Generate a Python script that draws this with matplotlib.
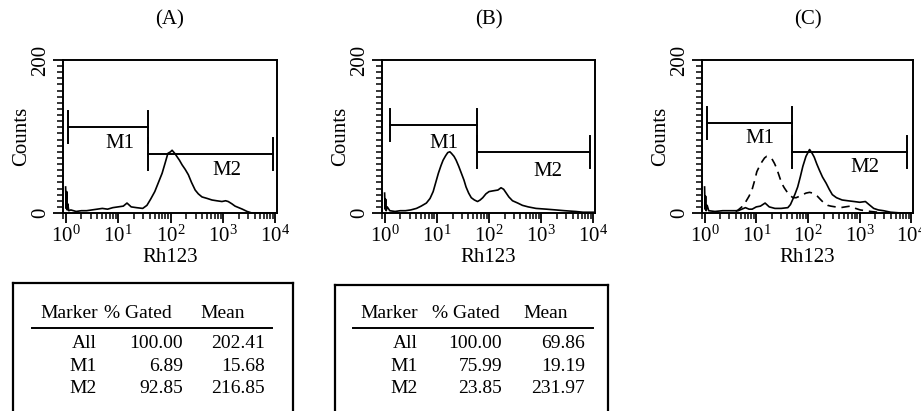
import numpy as np
import matplotlib
matplotlib.use("Agg")
import matplotlib.pyplot as plt
from matplotlib.ticker import FixedLocator, MultipleLocator, LogLocator, NullFormatter

plt.rcParams['font.family'] = ['Liberation Serif', 'DejaVu Serif']
plt.rcParams['mathtext.fontset'] = 'custom'
plt.rcParams['mathtext.rm'] = 'Liberation Serif'
plt.rcParams['mathtext.it'] = 'Liberation Serif:italic'

# histogram traces: (position in decades, counts)
hist_a = [(0.00, 34), (0.01, 6), (0.02, 28), (0.03, 4), (0.04, 12), (0.06, 3), (0.10, 4), (0.20, 2),
          (0.30, 3), (0.40, 3), (0.50, 4), (0.60, 5), (0.70, 6), (0.80, 5), (0.90, 7), (1.00, 8),
          (1.10, 9), (1.17, 13), (1.25, 8), (1.35, 7), (1.47, 6), (1.55, 10), (1.62, 18), (1.70, 28),
          (1.77, 40), (1.84, 52), (1.90, 66), (1.95, 78), (2.00, 80), (2.03, 82), (2.08, 78),
          (2.12, 74), (2.17, 69), (2.22, 63), (2.28, 57), (2.34, 50), (2.40, 40), (2.47, 30),
          (2.53, 25), (2.60, 21), (2.70, 19), (2.79, 17), (2.88, 16), (2.98, 15), (3.05, 16),
          (3.10, 15), (3.17, 12), (3.23, 9), (3.30, 7), (3.37, 5), (3.46, 2), (3.55, 0), (3.70, 0),
          (3.90, 0), (4.00, 0)]

hist_b = [(0.00, 26), (0.01, 5), (0.02, 18), (0.03, 3), (0.05, 8), (0.10, 3), (0.20, 2), (0.30, 3),
          (0.40, 3), (0.50, 4), (0.61, 6), (0.70, 9), (0.80, 13), (0.87, 19), (0.93, 28), (0.98, 40),
          (1.03, 52), (1.08, 62), (1.12, 69), (1.17, 75), (1.21, 79), (1.25, 80), (1.28, 78),
          (1.33, 74), (1.37, 69), (1.42, 61), (1.47, 52), (1.52, 43), (1.56, 34), (1.61, 26),
          (1.66, 20), (1.72, 17), (1.78, 15), (1.83, 17), (1.88, 20), (1.94, 25), (2.00, 28),
          (2.08, 29), (2.17, 30), (2.23, 33), (2.28, 31), (2.32, 27), (2.38, 21), (2.45, 16),
          (2.55, 13), (2.64, 10), (2.75, 8), (2.90, 6), (3.10, 5), (3.28, 4), (3.45, 3), (3.66, 2),
          (3.80, 1), (4.00, 1)]

hist_c_treated = [(0.00, 34), (0.01, 5), (0.02, 22), (0.03, 3), (0.05, 10), (0.08, 3), (0.20, 2),
                  (0.35, 3), (0.50, 3), (0.65, 3), (0.72, 5), (0.79, 7), (0.86, 5), (0.92, 5),
                  (1.00, 8), (1.08, 9), (1.17, 13), (1.25, 8), (1.36, 6), (1.48, 6), (1.61, 7),
                  (1.66, 11), (1.70, 17), (1.75, 25), (1.80, 34), (1.85, 47), (1.90, 61), (1.96, 74),
                  (2.03, 83), (2.08, 78), (2.12, 73), (2.17, 64), (2.22, 56), (2.28, 47), (2.35, 39),
                  (2.41, 31), (2.47, 24), (2.55, 20), (2.66, 17), (2.77, 16), (2.89, 15), (3.00, 14),
                  (3.11, 15), (3.18, 11), (3.27, 6), (3.36, 4), (3.46, 3), (3.60, 1), (3.80, 0),
                  (4.00, 0)]

hist_c_control = [(0.60, 2), (0.65, 4), (0.72, 8), (0.79, 14), (0.86, 22), (0.92, 31), (0.97, 43),
                  (1.01, 54), (1.06, 61), (1.11, 67), (1.16, 72), (1.20, 74), (1.25, 73), (1.30, 71),
                  (1.35, 65), (1.39, 59), (1.44, 49), (1.49, 39), (1.54, 33), (1.59, 28), (1.65, 23),
                  (1.71, 20), (1.77, 20), (1.84, 22), (1.90, 24), (1.96, 26), (2.03, 27), (2.09, 26),
                  (2.14, 24), (2.18, 22), (2.25, 17), (2.31, 13), (2.38, 10), (2.44, 9), (2.53, 8),
                  (2.63, 7), (2.72, 8), (2.82, 9), (2.92, 6), (3.01, 4), (3.11, 3), (3.21, 2),
                  (3.35, 1), (3.50, 0)]

# gates: name -> (from decade, to decade, counts level)
gates_a = {'M1': (0.04, 1.57, 112), 'M2': (1.57, 3.96, 77)}
gates_b = {'M1': (0.10, 1.77, 115), 'M2': (1.77, 3.94, 80)}
gates_c = {'M1': (0.04, 1.69, 118), 'M2': (1.69, 3.92, 80)}

# gate label anchor (decade, counts)
gate_labels_a = {'M1': (1.03, 91), 'M2': (3.08, 56)}
gate_labels_b = {'M1': (1.14, 91), 'M2': (3.12, 54)}
gate_labels_c = {'M1': (1.07, 98), 'M2': (3.10, 59)}

panel_titles = ['(A)', '(B)', '(C)']

table_cols = ['Marker', '% Gated', 'Mean']
table_rows = ['All', 'M1', 'M2']
gated_a = ['100.00', '6.89', '92.85']
mean_a = ['202.41', '15.68', '216.85']
gated_b = ['100.00', '75.99', '23.85']
mean_b = ['69.86', '19.19', '231.97']

W, H = 921, 411
fig = plt.figure(figsize=(W / 100, H / 100), dpi=100)

def px_axes(x0, y0, x1, y1):
    # pixel box (top-left origin) -> figure fraction
    return fig.add_axes([x0 / W, 1 - y1 / H, (x1 - x0) / W, (y1 - y0) / H])

boxes = [(63, 60, 277, 213), (382, 60, 595, 213), (702, 60, 913, 213)]
traces = [[hist_a], [hist_b], [hist_c_treated, hist_c_control]]
gates = [gates_a, gates_b, gates_c]
gate_labels = [gate_labels_a, gate_labels_b, gate_labels_c]
cap = 21
fs = 15

for box, tr, gt, gl, title in zip(boxes, traces, gates, gate_labels, panel_titles):
    ax = px_axes(*box)
    ax.set_xscale('log')
    ax.set_xlim(10 ** -0.05, 10 ** 4.03)
    ax.set_ylim(0, 200)
    for i, h in enumerate(tr):
        pos = np.array([p for p, c in h])
        cnt = np.array([c for p, c in h])
        ls = '-' if i == 0 else (0, (5, 3.5))
        ax.plot(10 ** pos, cnt, color='black', lw=1.2, ls=ls)
    for name, (lo, hi, lev) in gt.items():
        ax.plot([10 ** lo, 10 ** hi], [lev, lev], color='black', lw=1.4)
        ax.plot([10 ** lo, 10 ** lo], [lev - cap, lev + cap], color='black', lw=1.4)
        ax.plot([10 ** hi, 10 ** hi], [lev - cap, lev + cap], color='black', lw=1.4)
        lx, ly = gl[name]
        ax.text(10 ** lx, ly, name, fontsize=fs, ha='center', va='center')
    for s in ax.spines.values():
        s.set_linewidth(1.4)
    ax.xaxis.set_major_locator(LogLocator(base=10, numticks=10))
    ax.xaxis.set_minor_locator(LogLocator(base=10, subs=np.arange(2, 10), numticks=20))
    ax.xaxis.set_minor_formatter(NullFormatter())
    ax.yaxis.set_major_locator(FixedLocator([0, 200]))
    ax.yaxis.set_minor_locator(MultipleLocator(8))
    ax.tick_params(which='major', direction='out', length=7, width=1.3, labelsize=fs,
                   top=False, right=False)
    ax.tick_params(which='minor', direction='out', length=4, width=1.1, top=False, right=False)
    ax.tick_params(axis='x', pad=2)
    ax.tick_params(axis='y', pad=2)
    for lab in ax.get_yticklabels():
        lab.set_rotation(90)
        lab.set_va('center')
    ax.set_xlabel('Rh123', fontsize=fs, labelpad=1)
    ax.set_ylabel('Counts', fontsize=fs)
    ax.yaxis.set_label_coords(-0.15, 0.5)
    ax.text(0.5, 1.265, title, transform=ax.transAxes, fontsize=fs, ha='center', va='center')

# statistics tables
tables = [((13, 283, 293, 411), gated_a, mean_a,
           (27, 91, 187), (84, 170, 252), 30, 45, (19, 259), (60, 83, 105)),
          ((335, 285, 608, 411), gated_b, mean_b,
           (25, 97, 188), (83, 167, 250), 28, 43, (18, 258), (58, 81, 103))]
for (bx, gated, mean, hx, rx, hy, ry, rule, rows_y) in tables:
    x0, y0, x1, y1 = bx
    tax = px_axes(x0, y0, x1, y1 + 2)
    tax.set_xlim(0, x1 - x0)
    tax.set_ylim(y1 + 2 - y0, 0)
    tax.set_xticks([])
    tax.set_yticks([])
    tax.spines['bottom'].set_visible(False)
    for s in ('left', 'right', 'top'):
        tax.spines[s].set_linewidth(1.6)
    for col, x in zip(table_cols, hx):
        tax.text(x, hy, col, fontsize=14, ha='left', va='center')
    tax.plot(rule, [ry, ry], color='black', lw=1.4)
    for name, g, m, y in zip(table_rows, gated, mean, rows_y):
        tax.text(rx[0], y, name, fontsize=14, ha='right', va='center')
        tax.text(rx[1], y, g, fontsize=14, ha='right', va='center')
        tax.text(rx[2], y, m, fontsize=14, ha='right', va='center')

fig.savefig('out.png', dpi=100)
